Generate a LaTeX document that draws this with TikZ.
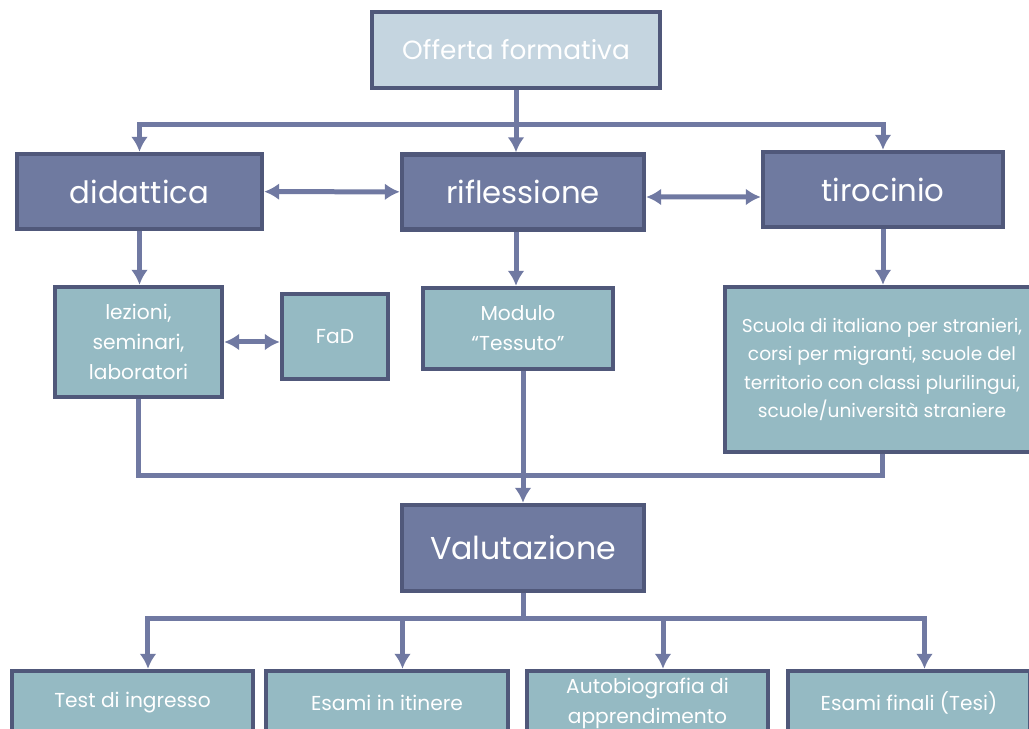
\documentclass[tikz,border=0pt]{standalone}
\usepackage{fontspec}
\setmainfont{Poppins}
\usetikzlibrary{arrows.meta}
\definecolor{boxdark}{HTML}{6F7AA0}
\definecolor{boxlight}{HTML}{95BAC3}
\definecolor{boxpale}{HTML}{C5D5E0}
\definecolor{boxline}{HTML}{50587A}
\definecolor{linkcol}{HTML}{7079A2}
\begin{document}
\begin{tikzpicture}[x=0.02cm,y=-0.02cm,
  >={Latex[length=0.3cm,width=0.34cm]},
  box/.style={draw=boxline,line width=0.09cm,text=white,align=center,inner sep=0pt},
  mainbox/.style={box,fill=boxdark,minimum height=1.5cm,font=\fontsize{17.5}{22}\selectfont},
  subbox/.style={box,fill=boxlight,font=\fontsize{11.5}{17}\selectfont},
  link/.style={draw=linkcol,line width=0.1cm}]
\useasboundingbox (0,0) rectangle (1029,729);
\node[box,fill=boxpale,minimum width=5.76cm,minimum height=1.52cm,font=\fontsize{15}{18}\selectfont] (offerta) at (516,50) {Offerta formativa};
\node[mainbox,minimum width=4.9cm] (didattica) at (139.5,191.5) {didattica};
\node[mainbox,minimum width=4.84cm] (riflessione) at (523,192) {riflessione};
\node[mainbox,minimum width=4.8cm] (tirocinio) at (883,189.5) {tirocinio};
\node[subbox,minimum width=3.34cm,minimum height=2.2cm] (lezioni) at (138.5,342) {lezioni,\\seminari,\\laboratori};
\node[subbox,minimum width=2.12cm,minimum height=1.7cm] (fad) at (335,336.5) {FaD};
\node[subbox,minimum width=3.8cm,minimum height=1.62cm] (modulo) at (518,328.5) {Modulo\\``Tessuto''};
\node[subbox,minimum width=6.28cm,minimum height=3.3cm,font=\fontsize{10.6}{16}\selectfont] (scuola) at (882,369.5)
  {Scuola di italiano per stranieri,\\corsi per migranti, scuole del\\territorio con classi plurilingui,\\scuole/università straniere};
\node[mainbox,minimum width=4.84cm,minimum height=1.72cm,font=\fontsize{18}{22}\selectfont] (valutazione) at (523,548) {Valutazione};
\node[subbox,minimum width=4.82cm,minimum height=1.28cm] (test) at (132.5,703) {Test di ingresso};
\node[subbox,minimum width=4.84cm,minimum height=1.28cm] (itinere) at (387,703) {Esami in itinere};
\node[subbox,minimum width=4.82cm,minimum height=1.28cm] (autobio) at (647.5,703) {Autobiografia di\\apprendimento};
\node[subbox,minimum width=4.84cm,minimum height=1.28cm] (finali) at (909,703) {Esami finali (Tesi)};
\coordinate (split) at (516,125);
\coordinate (merge) at (523,476);
\coordinate (fork) at (523,619);
\draw[link] (offerta) -- (split);
\draw[link,->] (split) -| (didattica);
\draw[link,->] (split) -| (tirocinio);
\draw[link,->] (split) -- (split |- riflessione.north);
\draw[link,<->] (didattica) -- (riflessione);
\draw[link,<->] ([yshift=-0.1cm]riflessione.east) -- ([yshift=-0.15cm]tirocinio.west);
\draw[link,->] (didattica.south) -- (didattica.south |- lezioni.north);
\draw[link,->] (split |- riflessione.south) -- (split |- modulo.north);
\draw[link,->] (tirocinio.south) -- (tirocinio.south |- scuola.north);
\draw[link,<->] (lezioni.east) -- (lezioni.east -| fad.west);
\draw[link] (lezioni.south) |- (merge) -| (scuola.south);
\draw[link,->] (valutazione.north |- modulo.south) -- (valutazione.north);
\draw[link] (valutazione) -- (fork);
\foreach \b in {test,itinere,autobio,finali}
  \draw[link,->] (fork) -| ([xshift=0.31cm]\b.north);
\end{tikzpicture}
\end{document}
